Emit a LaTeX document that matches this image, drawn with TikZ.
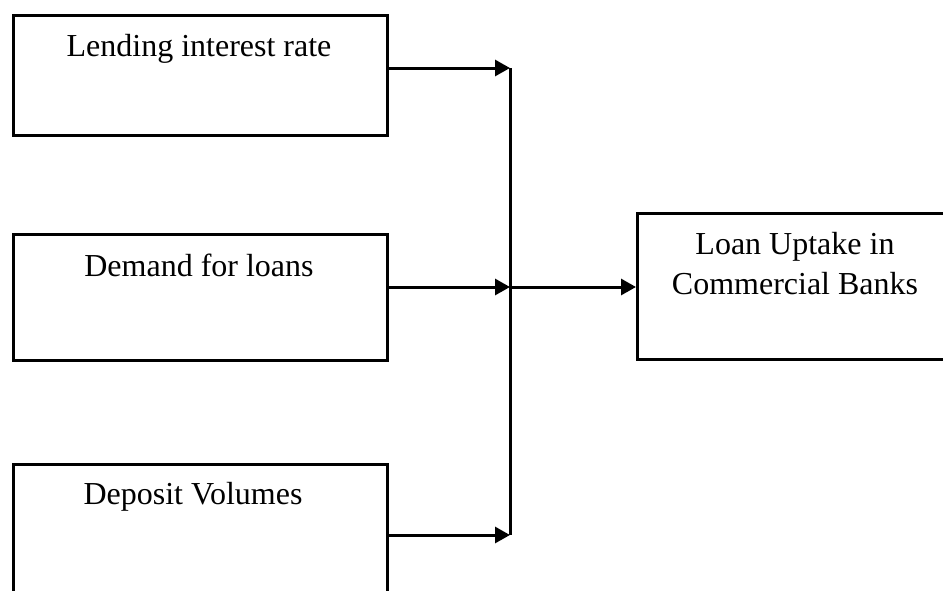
\documentclass[tikz,border=0pt]{standalone}
\usepackage{fontspec}
\setmainfont{Liberation Serif}
\usetikzlibrary{arrows.meta}
\begin{document}
\begin{tikzpicture}[x=1pt,y=-1pt,
  box/.style={draw=black,line width=3pt,rectangle,inner sep=0pt,anchor=north west},
  lbl/.style={font=\fontsize{32}{40}\selectfont,anchor=base,inner sep=0pt,align=center},
  conn/.style={line width=3pt},
  arr/.style={line width=3pt,-{Triangle[length=15pt,width=16pt]}}]
\useasboundingbox (0,0) rectangle (943,590);
\clip (0,0) rectangle (943,590);
\node[box,minimum width=374pt,minimum height=120pt] (b1) at (12,14) {};
\node[box,minimum width=374pt,minimum height=126pt] (b2) at (12,233) {};
\node[box,minimum width=374pt,minimum height=150pt] (b3) at (12,463) {};
\node[box,minimum width=330pt,minimum height=146pt] (b4) at (636,212) {};
\node[lbl] (t1) at (199,56) {Lending interest rate};
\node[lbl] (t2) at (199,276) {Demand for loans};
\node[lbl] (t3) at (193,504) {Deposit Volumes};
\node[lbl] (t4) at (795,294) {Loan Uptake in\\Commercial Banks};
\coordinate (j1) at (510,68);
\coordinate (j2) at (510,287);
\coordinate (j3) at (510,535);
\draw[conn] (j1) -- (j3);
\draw[arr] (b1.east |- j1) -- (j1);
\draw[arr] (b2.east |- j2) -- (j2);
\draw[arr] (b3.east |- j3) -- (j3);
\draw[arr] (j2) -- (b4.west |- j2);
\end{tikzpicture}
\end{document}
